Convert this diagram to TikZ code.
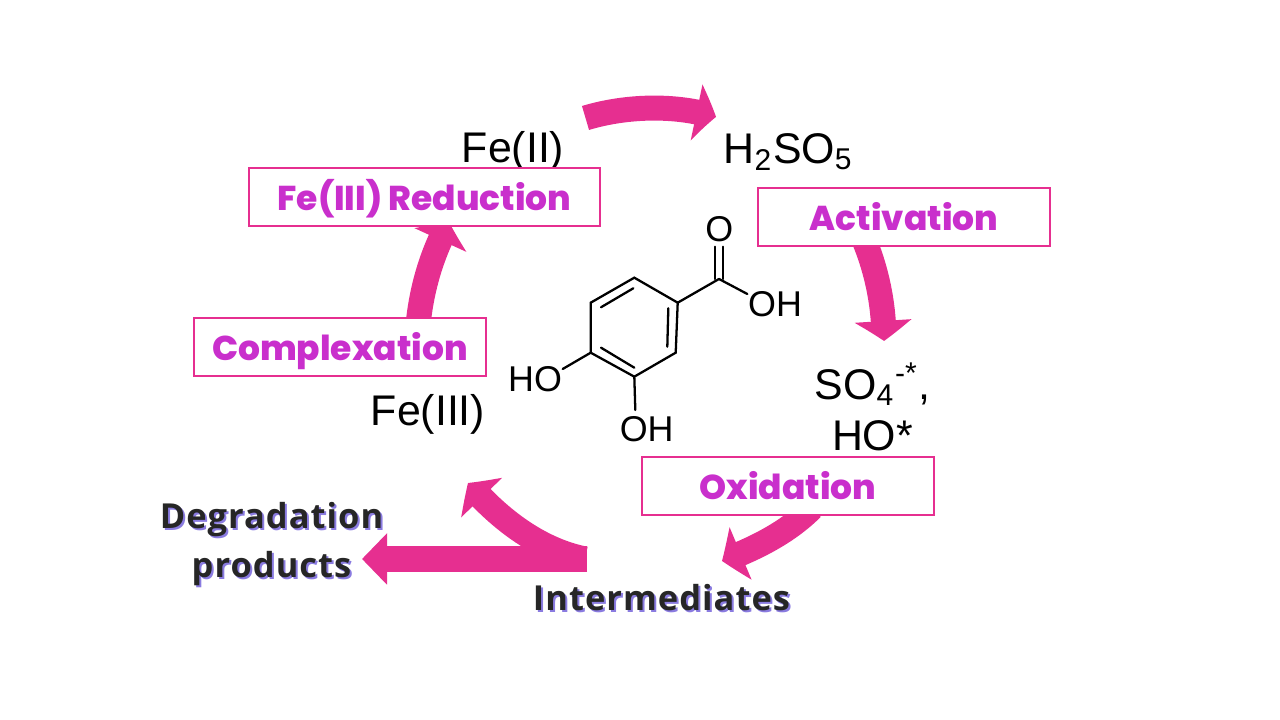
\documentclass[tikz,border=0pt]{standalone}
\usepackage{fontspec}
\setmainfont{Liberation Sans}
\newfontfamily\boxfont{Poppins ExtraBold}
\newfontfamily\tagfont[LetterSpace=3]{Open Sans}
\usetikzlibrary{arrows.meta, bending, positioning}
\definecolor{cyclepink}{HTML}{E62F90}
\definecolor{stagepurple}{HTML}{C92FCC}
\definecolor{tagdark}{HTML}{262626}
\definecolor{tagshadow}{HTML}{8A7BE0}
\tikzset{
    flowarrow/.style={cyclepink, line width=0.25cm, -{Triangle[length=0.2cm, width=0.56cm, bend]}},
    straightarrow/.style={cyclepink, line width=0.26cm, -{Triangle[length=0.25cm, width=0.5cm]}},
    stagebox/.style={draw=cyclepink, line width=0.6pt, fill=white, text=stagepurple, minimum width=2.92cm, minimum height=0.58cm, inner sep=0pt, text height=9.7pt, text depth=2.2pt, font=\boxfont\fontsize{9.8}{12}\selectfont},
    species/.style={text=black, align=center, inner sep=0pt, font=\fontsize{12.2}{14.5}\selectfont},
    atomlabel/.style={text=black, inner sep=0pt, font=\fontsize{10.2}{12}\selectfont},
    taglabel/.style={text=tagdark, align=center, inner sep=0pt, font=\tagfont\bfseries\fontsize{9.8}{13.9}\selectfont},
    tagback/.style={taglabel, text=tagshadow},
    bond/.style={black, line width=0.65pt, line cap=round}
}
\begin{document}
\begin{tikzpicture}
    \useasboundingbox (0, 0) rectangle (12.8, 7.2);

    % Species round the cycle
    \node[species] (feii) at (5.13, 5.69) {Fe(II)};
    \node[species] (hso) at (7.885, 5.68) {H\textsubscript{2}SO\textsubscript{5}};
    \node[species] (radicals) at (8.725, 3.13) {SO\textsubscript{4}\textsuperscript{-*},\\HO*};
    \node[species] (feiii) at (4.28, 3.06) {Fe(III)};

    % Free ends of the arrows
    \coordinate (topstart) at (5.855, 6.02);
    \coordinate (topend) at (7.16, 6.03);
    \coordinate (actstart) at (8.62, 4.85);
    \coordinate (actend) at (8.84, 3.79);
    \coordinate (oxstart) at (8.12, 2.12);
    \coordinate (oxend) at (7.22, 1.59);
    \coordinate (interstart) at (5.85, 1.61);
    \coordinate (interend) at (4.68, 2.37);
    \coordinate (degstart) at (5.87, 1.61);
    \coordinate (degend) at (3.62, 1.61);
    \coordinate (compstart) at (4.18, 3.95);
    \coordinate (compend) at (4.49, 4.98);

    % Arrows
    \draw[flowarrow] (topstart) .. controls (6.25, 6.14) and (6.75, 6.16) .. (topend);
    \draw[flowarrow] (actstart) .. controls (8.75, 4.55) and (8.84, 4.2) .. (actend);
    \draw[flowarrow] (oxstart) .. controls (7.9, 1.9) and (7.6, 1.73) .. (oxend);
    \draw[flowarrow] (interstart) .. controls (5.4, 1.7) and (5.0, 2.0) .. (interend);
    \draw[straightarrow] (degstart) -- (degend);
    \draw[flowarrow] (compstart) .. controls (4.22, 4.35) and (4.33, 4.68) .. (compend);

    % Stage boxes
    \node[stagebox, minimum width=3.51cm] (reduction) at (4.245, 5.23) {Fe(III) Reduction};
    \node[stagebox] (activation) at (9.04, 5.03) {Activation};
    \node[stagebox] (complexation) at (3.4, 3.73) {Complexation};
    \node[stagebox] (oxidation) at (7.88, 2.34) {Oxidation};

    % Ring
    \coordinate (ringa) at (6.343, 4.423);
    \coordinate (ringb) at (6.777, 4.173);
    \coordinate (ringc) at (6.757, 3.673);
    \coordinate (ringd) at (6.343, 3.433);
    \coordinate (ringe) at (5.907, 3.673);
    \coordinate (ringf) at (5.907, 4.173);
    \draw[bond] (ringa) -- (ringb) -- (ringc) -- (ringd) -- (ringe) -- (ringf) -- cycle;
    \draw[bond] (6.333, 4.317) -- (6.01, 4.127);
    \draw[bond] (6.683, 4.117) -- (6.673, 3.733);
    \draw[bond] (6.01, 3.723) -- (6.343, 3.523);

    % Atoms
    \node[atomlabel] (oxygen) at (7.193, 4.906) {O};
    \node[atomlabel] (acidoh) at (7.75, 4.16) {OH};
    \node[atomlabel] (paraoh) at (5.35, 3.406) {HO};
    \node[atomlabel] (metaoh) at (6.467, 2.906) {OH};

    % Substituent bonds
    \coordinate (carbon) at (7.19, 4.41);
    \coordinate (acidend) at (7.473, 4.26);
    \coordinate (oxoend) at (7.19, 4.733);
    \coordinate (paraend) at (5.627, 3.51);
    \coordinate (metaend) at (6.353, 3.1);
    \draw[bond] (ringb) -- (carbon);
    \draw[bond] (carbon) -- (acidend);
    \draw[bond] ([xshift=-0.043cm]carbon) -- ([xshift=-0.043cm]oxoend);
    \draw[bond] ([xshift=0.043cm]carbon) -- ([xshift=0.043cm]oxoend);
    \draw[bond] (ringe) -- (paraend);
    \draw[bond] (ringd) -- (metaend);

    % End products
    \node[tagback] (interback) at (6.635, 1.2) {Intermediates};
    \node[taglabel] (intermediates) at (6.615, 1.22) {Intermediates};
    \node[tagback] (degback) at (2.735, 1.74) {Degradation\\products};
    \node[taglabel] (degradation) at (2.715, 1.76) {Degradation\\products};
\end{tikzpicture}
\end{document}
